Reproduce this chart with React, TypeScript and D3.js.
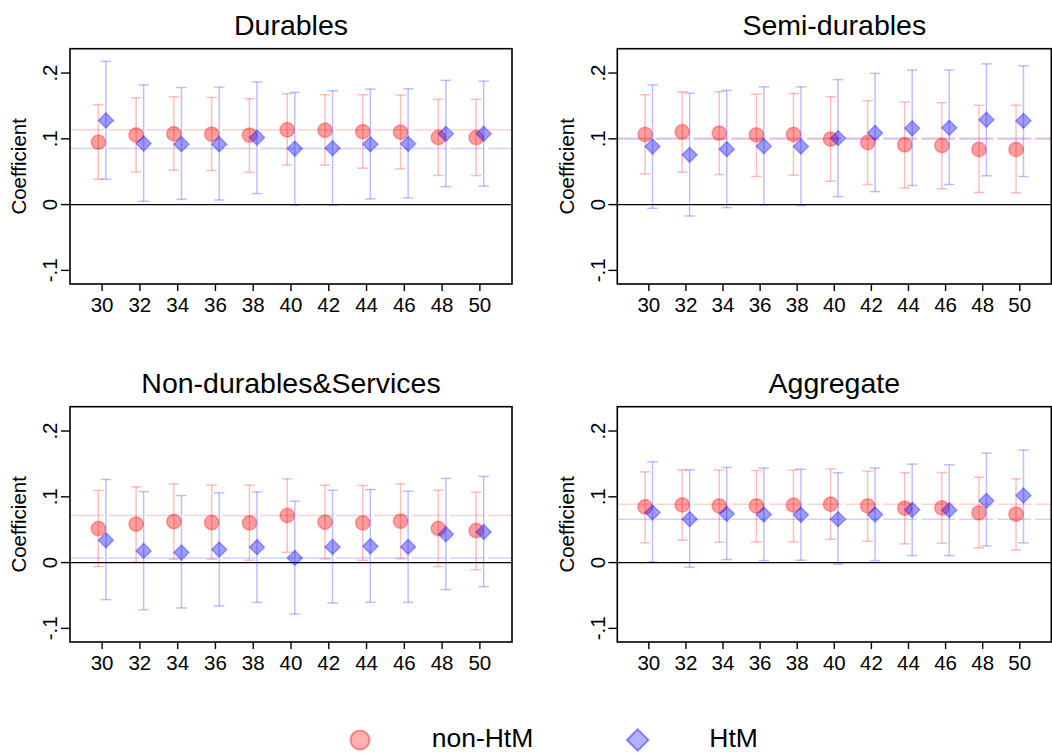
import * as d3 from "d3";

const AGES = [30, 32, 34, 36, 38, 40, 42, 44, 46, 48, 50];
const Y_TICKS = [-0.1, 0, 0.1, 0.2];
const Y_TICK_LABELS = ["-.1", "0", ".1", ".2"];
const TITLES = ["Durables", "Semi-durables", "Non-durables&Services", "Aggregate"];
const LEGEND = ["non-HtM", "HtM"];
// reference lines are drawn at the estimate for this age
const BASE_AGE = 40;

// Durables
const durNonB = [0.095, 0.106, 0.1076, 0.107, 0.1056, 0.1137, 0.113, 0.111, 0.11, 0.102, 0.102];
const durNonLo = [0.0386, 0.0497, 0.0523, 0.0518, 0.049, 0.06, 0.06, 0.0553, 0.0543, 0.0442, 0.0442];
const durNonHi = [0.1518, 0.162, 0.164, 0.163, 0.161, 0.1685, 0.167, 0.167, 0.1665, 0.16, 0.16];
const durHtmB = [0.128, 0.0929, 0.0919, 0.0919, 0.102, 0.0852, 0.0858, 0.0919, 0.0924, 0.1076, 0.1076];
const durHtmLo = [0.0386, 0.005, 0.008, 0.007, 0.0168, -0.001, -0.001, 0.0086, 0.0102, 0.0274, 0.028];
const durHtmHi = [0.2178, 0.182, 0.178, 0.1787, 0.1863, 0.1706, 0.173, 0.1756, 0.176, 0.1888, 0.1878];

// Semi-durables
const semiNonB = [0.1066, 0.1107, 0.1086, 0.106, 0.1066, 0.0995, 0.0944, 0.0909, 0.0898, 0.0838, 0.0838];
const semiNonLo = [0.0467, 0.0492, 0.0457, 0.0426, 0.0447, 0.0355, 0.0305, 0.0254, 0.0239, 0.0183, 0.0178];
const semiNonHi = [0.167, 0.1716, 0.1716, 0.168, 0.169, 0.164, 0.158, 0.156, 0.155, 0.151, 0.151];
const semiHtmB = [0.0883, 0.0756, 0.0843, 0.0888, 0.0883, 0.101, 0.109, 0.116, 0.1168, 0.129, 0.1274];
const semiHtmLo = [-0.0056, -0.0173, -0.0046, -0.0005, -0.0015, 0.0122, 0.0198, 0.029, 0.0305, 0.0437, 0.0426];
const semiHtmHi = [0.182, 0.1695, 0.1736, 0.179, 0.179, 0.19, 0.1995, 0.2046, 0.2046, 0.214, 0.211];

// Non-durables & services
const ndsNonB = [0.0518, 0.0584, 0.0624, 0.0609, 0.0604, 0.0716, 0.0614, 0.0604, 0.0629, 0.0518, 0.0487];
const ndsNonLo = [-0.0061, 0.001, 0.0051, 0.0051, 0.0036, 0.0157, 0.0056, 0.0036, 0.0061, -0.0061, -0.0107];
const ndsNonHi = [0.1096, 0.1152, 0.1198, 0.1178, 0.1178, 0.1274, 0.1178, 0.1173, 0.1198, 0.11, 0.107];
const ndsHtmB = [0.034, 0.0178, 0.0152, 0.0198, 0.0234, 0.0071, 0.0239, 0.0249, 0.0239, 0.0431, 0.0467];
const ndsHtmLo = [-0.0563, -0.0716, -0.069, -0.066, -0.0604, -0.0782, -0.0614, -0.0604, -0.0604, -0.0411, -0.0365];
const ndsHtmHi = [0.1264, 0.108, 0.102, 0.106, 0.1076, 0.0934, 0.11, 0.111, 0.1086, 0.128, 0.131];

// Aggregate
const aggNonB = [0.0848, 0.0878, 0.0863, 0.0863, 0.0873, 0.0888, 0.0863, 0.0827, 0.0832, 0.0756, 0.0736];
const aggNonLo = [0.03, 0.034, 0.031, 0.0315, 0.0315, 0.0355, 0.0325, 0.0284, 0.0294, 0.0223, 0.0193];
const aggNonHi = [0.138, 0.141, 0.1406, 0.14, 0.1406, 0.1426, 0.139, 0.1365, 0.137, 0.13, 0.1274];
const aggHtmB = [0.0761, 0.066, 0.0741, 0.0731, 0.0726, 0.066, 0.0731, 0.0802, 0.0797, 0.0939, 0.102];
const aggHtmLo = [0.001, -0.0071, 0.0046, 0.003, 0.0036, -0.0025, 0.003, 0.0107, 0.0107, 0.0254, 0.03];
const aggHtmHi = [0.1533, 0.141, 0.1447, 0.1437, 0.142, 0.1365, 0.1437, 0.1497, 0.1487, 0.1665, 0.171];

const FONT = "'Liberation Sans', Arial, sans-serif";
const RED = "255,0,0";
const BLUE = "0,0,255";

const panels = [
  { title: TITLES[0], left: 70, top: 48.7, width: 442, non: [durNonB, durNonLo, durNonHi], htm: [durHtmB, durHtmLo, durHtmHi] },
  { title: TITLES[1], left: 617.3, top: 48.7, width: 434, non: [semiNonB, semiNonLo, semiNonHi], htm: [semiHtmB, semiHtmLo, semiHtmHi] },
  { title: TITLES[2], left: 70, top: 406.7, width: 442, non: [ndsNonB, ndsNonLo, ndsNonHi], htm: [ndsHtmB, ndsHtmLo, ndsHtmHi] },
  { title: TITLES[3], left: 617.3, top: 406.7, width: 434, non: [aggNonB, aggNonLo, aggNonHi], htm: [aggHtmB, aggHtmLo, aggHtmHi] },
];

const PANEL_H = 235.3;

function diamond(cx: number, cy: number, r: number) {
  return `M${cx},${cy - r}L${cx + r},${cy}L${cx},${cy + r}L${cx - r},${cy}Z`;
}

function Panel({ p }: { p: any }) {
  const x = d3.scaleLinear().domain([28.3, 51.7]).range([p.left, p.left + p.width]);
  const y = d3.scaleLinear().domain([-0.1207, 0.237]).range([p.top + PANEL_H, p.top]);
  const baseIdx = AGES.indexOf(BASE_AGE);
  const series = [
    { data: p.non, rgb: RED, off: -0.2, shape: "circle" },
    { data: p.htm, rgb: BLUE, off: 0.2, shape: "diamond" },
  ];
  const bottom = p.top + PANEL_H;
  const midY = p.top + PANEL_H / 2;

  return (
    <g>
      <text x={p.left + p.width / 2} y={p.top - 13.7} textAnchor="middle" fontSize={28.5} fontFamily={FONT}>
        {p.title}
      </text>

      {/* reference lines at the base age */}
      {series.map((s, k) => (
        <line key={"ref" + k} x1={p.left} x2={p.left + p.width} y1={y(s.data[0][baseIdx])} y2={y(s.data[0][baseIdx])}
          stroke={`rgba(${s.rgb},0.18)`} strokeWidth={1.5} strokeDasharray="34,4" />
      ))}

      {/* zero line */}
      <line x1={p.left} x2={p.left + p.width} y1={y(0)} y2={y(0)} stroke="#000" strokeWidth={1.4} />

      {series.map((s, k) => (
        <g key={"s" + k}>
          {AGES.map((a, i) => {
            const cx = x(a + s.off);
            const c = `rgba(${s.rgb},0.25)`;
            return (
              <g key={i}>
                <line x1={cx} x2={cx} y1={y(s.data[1][i])} y2={y(s.data[2][i])} stroke={c} strokeWidth={1.5} />
                <line x1={cx - 5.3} x2={cx + 5.3} y1={y(s.data[1][i])} y2={y(s.data[1][i])} stroke={c} strokeWidth={1.5} />
                <line x1={cx - 5.3} x2={cx + 5.3} y1={y(s.data[2][i])} y2={y(s.data[2][i])} stroke={c} strokeWidth={1.5} />
              </g>
            );
          })}
          {AGES.map((a, i) => {
            const cx = x(a + s.off);
            const cy = y(s.data[0][i]);
            return s.shape === "circle" ? (
              <circle key={"m" + i} cx={cx} cy={cy} r={7.2} fill={`rgba(${s.rgb},0.38)`} stroke={`rgba(${s.rgb},0.3)`} strokeWidth={1.5} />
            ) : (
              <path key={"m" + i} d={diamond(cx, cy, 7.6)} fill={`rgba(${s.rgb},0.38)`} stroke={`rgba(${s.rgb},0.3)`} strokeWidth={1.5} />
            );
          })}
        </g>
      ))}

      {/* frame */}
      <rect x={p.left} y={p.top} width={p.width} height={PANEL_H} fill="none" stroke="#000" strokeWidth={1.6} />

      {/* y axis */}
      {Y_TICKS.map((t, i) => (
        <g key={"yt" + i}>
          <line x1={p.left - 9} x2={p.left} y1={y(t)} y2={y(t)} stroke="#000" strokeWidth={1.4} />
          <text transform={`translate(${p.left - 20},${y(t)}) rotate(-90)`} textAnchor="middle" dy="0.36em"
            fontSize={20.5} fontFamily={FONT}>
            {Y_TICK_LABELS[i]}
          </text>
        </g>
      ))}
      <text transform={`translate(${p.left - 51},${midY}) rotate(-90)`} textAnchor="middle" dy="0.36em"
        fontSize={20.5} fontFamily={FONT}>
        Coefficient
      </text>

      {/* x axis */}
      {AGES.map((a) => (
        <g key={"xt" + a}>
          <line x1={x(a)} x2={x(a)} y1={bottom} y2={bottom + 7} stroke="#000" strokeWidth={1.4} />
          <text x={x(a)} y={bottom + 27.5} textAnchor="middle" fontSize={20.5} fontFamily={FONT}>
            {a}
          </text>
        </g>
      ))}
    </g>
  );
}

export default function App() {
  return (
    <svg width={1052} height={753} style={{ position: "absolute", left: 0, top: 0, background: "#fff" }}>
      <rect width={1052} height={753} fill="#fff" />
      {panels.map((p, i) => (
        <Panel key={i} p={p} />
      ))}
      <g>
        <circle cx={360} cy={740} r={9.5} fill={`rgba(${RED},0.3)`} stroke={`rgba(${RED},0.4)`} strokeWidth={2} />
        <text x={431.7} y={746.5} fontSize={26.5} fontFamily={FONT}>{LEGEND[0]}</text>
        <path d={diamond(637.7, 740, 10.8)} fill={`rgba(${BLUE},0.3)`} stroke={`rgba(${BLUE},0.4)`} strokeWidth={2} />
        <text x={709.3} y={746.5} fontSize={26.5} fontFamily={FONT}>{LEGEND[1]}</text>
      </g>
    </svg>
  );
}
